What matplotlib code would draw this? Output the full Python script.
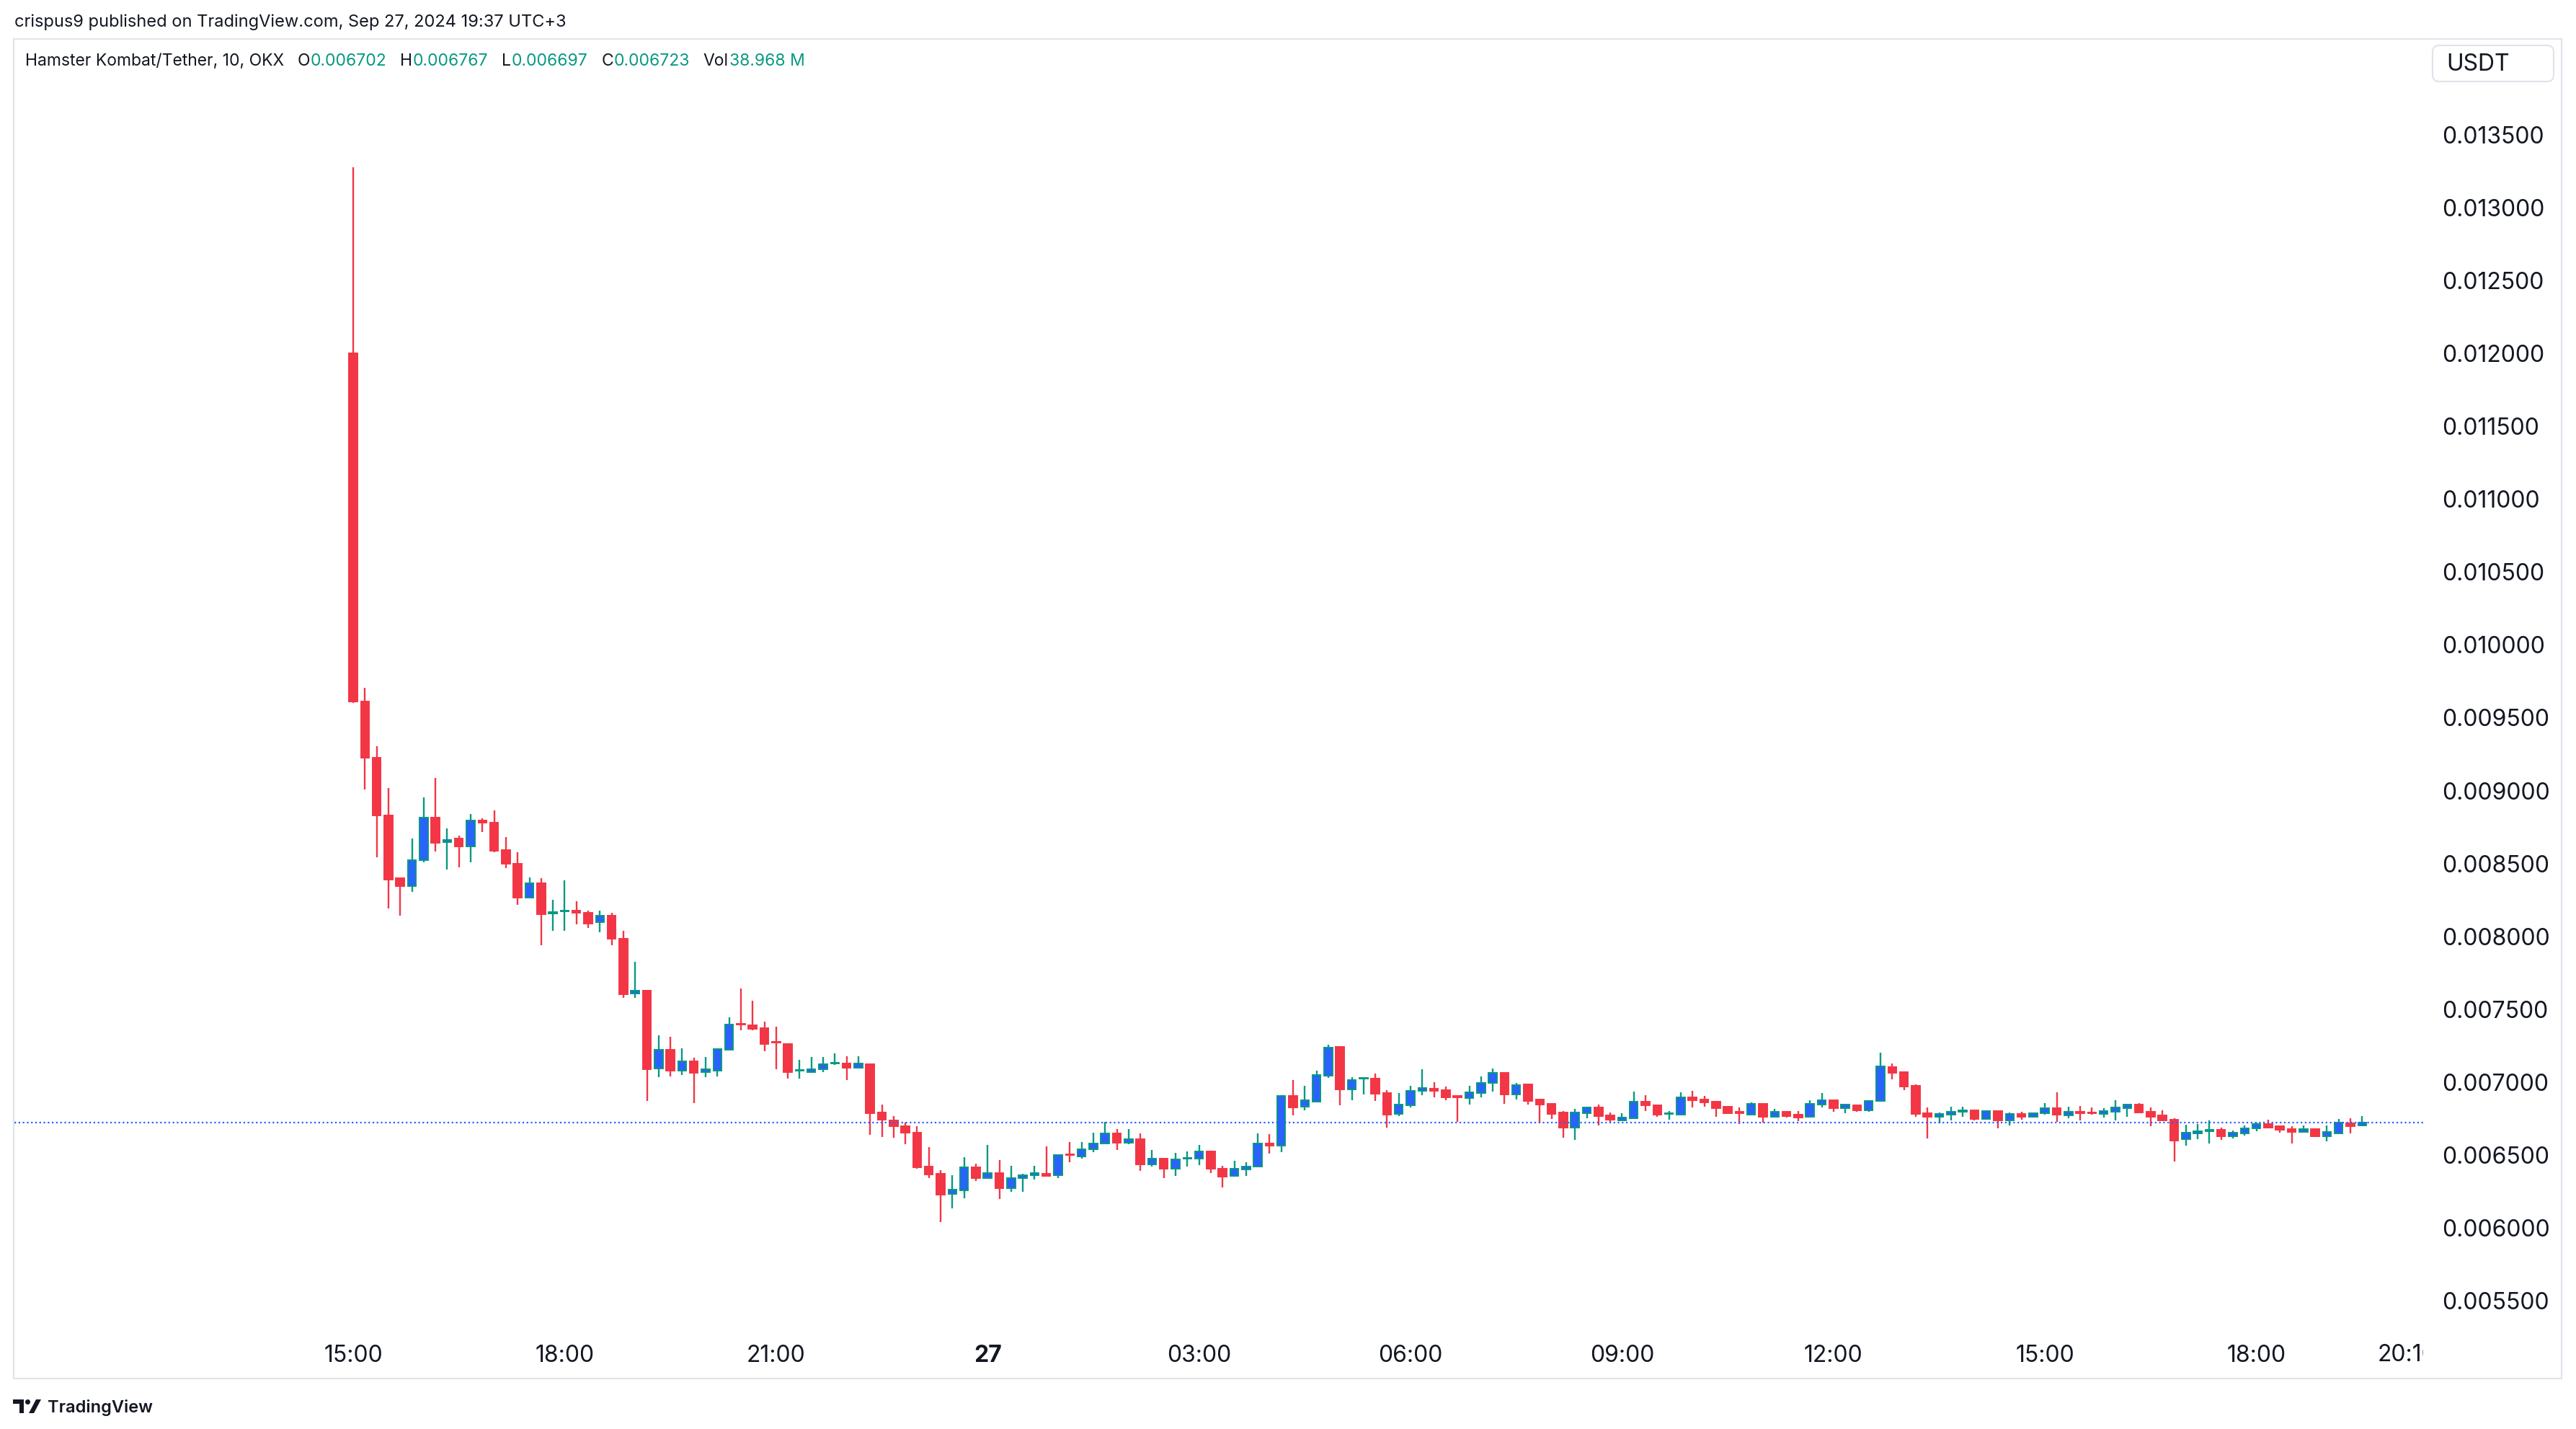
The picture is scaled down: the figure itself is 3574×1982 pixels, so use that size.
import matplotlib
matplotlib.use("Agg")
import matplotlib.pyplot as plt
from matplotlib.patches import Rectangle, Circle, Polygon, FancyBboxPatch
from matplotlib.transforms import Bbox, TransformedBbox, blended_transform_factory, offset_copy

plt.rcParams['font.family'] = ['Inter', 'DejaVu Sans']

W, H = 3574, 1982
DPI = 100

## données : bougies de 10 minutes, HMSTR/USDT (OKX), du 26/09 15:00 au 27/09 19:30
opens = [0.012000, 0.009611, 0.009225, 0.008828, 0.008400, 0.008343, 0.008521, 0.008816, 0.008645, 0.008672,
         0.008616, 0.008794, 0.008779, 0.008593, 0.008498, 0.008264, 0.008366, 0.008157, 0.008172, 0.008176,
         0.008161, 0.008097, 0.008142, 0.007984, 0.007606, 0.007628, 0.007096, 0.007224, 0.007080, 0.007144,
         0.007067, 0.007080, 0.007224, 0.007401, 0.007392, 0.007372, 0.007277, 0.007261, 0.007078, 0.007071,
         0.007087, 0.007127, 0.007129, 0.007100, 0.007124, 0.006793, 0.006740, 0.006696, 0.006656, 0.006420,
         0.006372, 0.006235, 0.006260, 0.006416, 0.006344, 0.006375, 0.006275, 0.006341, 0.006360, 0.006370,
         0.006361, 0.006504, 0.006489, 0.006538, 0.006580, 0.006647, 0.006583, 0.006608, 0.006438, 0.006474,
         0.006408, 0.006474, 0.006474, 0.006524, 0.006408, 0.006359, 0.006400, 0.006420, 0.006581, 0.006566,
         0.006904, 0.006834, 0.006868, 0.007046, 0.007241, 0.006952, 0.007023, 0.007023, 0.006926, 0.006784,
         0.006840, 0.006939, 0.006954, 0.006945, 0.006905, 0.006892, 0.006928, 0.006995, 0.007066, 0.006916,
         0.006985, 0.006883, 0.006852, 0.006793, 0.006690, 0.006788, 0.006827, 0.006773, 0.006738, 0.006755,
         0.006867, 0.006844, 0.006781, 0.006778, 0.006896, 0.006882, 0.006867, 0.006832, 0.006797, 0.006778,
         0.006852, 0.006763, 0.006797, 0.006778, 0.006765, 0.006849, 0.006877, 0.006824, 0.006842, 0.006808,
         0.006869, 0.007104, 0.007071, 0.006976, 0.006788, 0.006765, 0.006779, 0.006799, 0.006808, 0.006748,
         0.006803, 0.006738, 0.006783, 0.006765, 0.006789, 0.006822, 0.006770, 0.006798, 0.006791, 0.006780,
         0.006799, 0.006824, 0.006847, 0.006798, 0.006773, 0.006743, 0.006607, 0.006649, 0.006666, 0.006674,
         0.006630, 0.006649, 0.006684, 0.006714, 0.006699, 0.006679, 0.006659, 0.006679, 0.006630, 0.006649,
         0.006719, 0.006702]
highs = [0.013275, 0.009706, 0.009305, 0.009017, 0.008400, 0.008672, 0.008953, 0.009085, 0.008741, 0.008691,
         0.008839, 0.008809, 0.008866, 0.008680, 0.008578, 0.008404, 0.008400, 0.008249, 0.008385, 0.008241,
         0.008176, 0.008177, 0.008161, 0.008037, 0.007825, 0.007628, 0.007321, 0.007312, 0.007233, 0.007169,
         0.007173, 0.007228, 0.007445, 0.007643, 0.007559, 0.007416, 0.007381, 0.007261, 0.007153, 0.007173,
         0.007173, 0.007197, 0.007178, 0.007178, 0.007129, 0.006846, 0.006767, 0.006723, 0.006700, 0.006555,
         0.006397, 0.006362, 0.006486, 0.006441, 0.006570, 0.006466, 0.006426, 0.006370, 0.006426, 0.006560,
         0.006505, 0.006589, 0.006589, 0.006654, 0.006728, 0.006678, 0.006678, 0.006647, 0.006535, 0.006481,
         0.006515, 0.006525, 0.006570, 0.006524, 0.006425, 0.006459, 0.006450, 0.006647, 0.006642, 0.006904,
         0.007013, 0.006974, 0.007077, 0.007255, 0.007247, 0.007035, 0.007028, 0.007058, 0.006946, 0.006926,
         0.006976, 0.007089, 0.007000, 0.006971, 0.006905, 0.006976, 0.007040, 0.007094, 0.007066, 0.006995,
         0.006985, 0.006888, 0.006852, 0.006800, 0.006817, 0.006832, 0.006849, 0.006794, 0.006788, 0.006938,
         0.006913, 0.006844, 0.006802, 0.006931, 0.006943, 0.006906, 0.006872, 0.006832, 0.006827, 0.006862,
         0.006852, 0.006817, 0.006802, 0.006802, 0.006877, 0.006926, 0.006877, 0.006847, 0.006847, 0.006877,
         0.007203, 0.007129, 0.007075, 0.006984, 0.006827, 0.006791, 0.006832, 0.006832, 0.006808, 0.006808,
         0.006803, 0.006791, 0.006798, 0.006791, 0.006857, 0.006931, 0.006832, 0.006837, 0.006827, 0.006822,
         0.006877, 0.006852, 0.006857, 0.006827, 0.006808, 0.006755, 0.006709, 0.006714, 0.006738, 0.006689,
         0.006669, 0.006704, 0.006725, 0.006743, 0.006699, 0.006699, 0.006704, 0.006684, 0.006704, 0.006748,
         0.006753, 0.006767]
lows = [0.009600, 0.009006, 0.008544, 0.008192, 0.008143, 0.008305, 0.008506, 0.008582, 0.008457, 0.008472,
        0.008506, 0.008714, 0.008578, 0.008468, 0.008218, 0.008264, 0.007938, 0.008040, 0.008040, 0.008082,
        0.008056, 0.008029, 0.007938, 0.007579, 0.007579, 0.006873, 0.007034, 0.007041, 0.007049, 0.006857,
        0.007034, 0.007041, 0.007224, 0.007356, 0.007356, 0.007213, 0.007089, 0.007027, 0.007027, 0.007063,
        0.007067, 0.007120, 0.007016, 0.007100, 0.006639, 0.006625, 0.006619, 0.006577, 0.006405, 0.006343,
        0.006041, 0.006134, 0.006205, 0.006324, 0.006344, 0.006200, 0.006250, 0.006250, 0.006334, 0.006359,
        0.006341, 0.006453, 0.006474, 0.006519, 0.006573, 0.006535, 0.006573, 0.006393, 0.006421, 0.006344,
        0.006359, 0.006421, 0.006431, 0.006378, 0.006280, 0.006354, 0.006359, 0.006420, 0.006510, 0.006522,
        0.006774, 0.006809, 0.006868, 0.007030, 0.006843, 0.006878, 0.006918, 0.006873, 0.006690, 0.006769,
        0.006829, 0.006913, 0.006896, 0.006877, 0.006730, 0.006847, 0.006896, 0.006936, 0.006852, 0.006882,
        0.006847, 0.006723, 0.006748, 0.006619, 0.006606, 0.006753, 0.006704, 0.006725, 0.006738, 0.006755,
        0.006802, 0.006763, 0.006743, 0.006773, 0.006827, 0.006832, 0.006763, 0.006789, 0.006713, 0.006778,
        0.006725, 0.006758, 0.006758, 0.006733, 0.006765, 0.006827, 0.006799, 0.006788, 0.006799, 0.006799,
        0.006869, 0.007022, 0.006948, 0.006765, 0.006615, 0.006720, 0.006738, 0.006765, 0.006738, 0.006748,
        0.006684, 0.006705, 0.006745, 0.006765, 0.006775, 0.006730, 0.006755, 0.006738, 0.006775, 0.006760,
        0.006738, 0.006765, 0.006794, 0.006699, 0.006738, 0.006458, 0.006565, 0.006607, 0.006580, 0.006605,
        0.006615, 0.006635, 0.006664, 0.006689, 0.006654, 0.006580, 0.006654, 0.006625, 0.006595, 0.006644,
        0.006649, 0.006697]
closes = [0.009611, 0.009225, 0.008828, 0.008389, 0.008343, 0.008521, 0.008816, 0.008642, 0.008663, 0.008616,
          0.008794, 0.008779, 0.008589, 0.008498, 0.008264, 0.008366, 0.008154, 0.008168, 0.008176, 0.008164,
          0.008090, 0.008142, 0.007984, 0.007601, 0.007626, 0.007087, 0.007224, 0.007080, 0.007144, 0.007065,
          0.007087, 0.007228, 0.007396, 0.007396, 0.007367, 0.007261, 0.007270, 0.007071, 0.007084, 0.007089,
          0.007124, 0.007133, 0.007100, 0.007129, 0.006789, 0.006745, 0.006696, 0.006656, 0.006416, 0.006369,
          0.006228, 0.006263, 0.006416, 0.006344, 0.006375, 0.006275, 0.006341, 0.006360, 0.006375, 0.006359,
          0.006499, 0.006499, 0.006538, 0.006580, 0.006647, 0.006584, 0.006608, 0.006438, 0.006474, 0.006408,
          0.006469, 0.006479, 0.006524, 0.006408, 0.006354, 0.006405, 0.006420, 0.006581, 0.006566, 0.006904,
          0.006828, 0.006875, 0.007048, 0.007236, 0.006952, 0.007013, 0.007028, 0.006922, 0.006779, 0.006845,
          0.006939, 0.006959, 0.006943, 0.006896, 0.006896, 0.006931, 0.006995, 0.007066, 0.006916, 0.006980,
          0.006872, 0.006847, 0.006783, 0.006690, 0.006793, 0.006827, 0.006768, 0.006745, 0.006758, 0.006867,
          0.006844, 0.006778, 0.006788, 0.006896, 0.006877, 0.006862, 0.006822, 0.006789, 0.006789, 0.006852,
          0.006763, 0.006797, 0.006768, 0.006758, 0.006852, 0.006877, 0.006824, 0.006847, 0.006808, 0.006872,
          0.007109, 0.007066, 0.006972, 0.006783, 0.006765, 0.006783, 0.006797, 0.006807, 0.006748, 0.006803,
          0.006738, 0.006783, 0.006765, 0.006786, 0.006822, 0.006775, 0.006798, 0.006785, 0.006785, 0.006803,
          0.006827, 0.006847, 0.006794, 0.006765, 0.006738, 0.006600, 0.006654, 0.006664, 0.006674, 0.006630,
          0.006654, 0.006684, 0.006714, 0.006689, 0.006674, 0.006659, 0.006679, 0.006630, 0.006659, 0.006724,
          0.006699, 0.006723]

price_ticks = [0.0055, 0.0060, 0.0065, 0.0070, 0.0075, 0.0080, 0.0085, 0.0090, 0.0095,
               0.0100, 0.0105, 0.0110, 0.0115, 0.0120, 0.0125, 0.0130, 0.0135]
time_ticks = [0, 18, 36, 54, 72, 90, 108, 126, 144, 162]
time_labels = ["15:00", "18:00", "21:00", "27", "03:00", "06:00", "09:00", "12:00", "15:00", "18:00"]
cut_tick, cut_label = 176, "20:10"

header = "crispus9 published on TradingView.com, Sep 27, 2024 19:37 UTC+3"
symbol = "Hamster Kombat/Tether, 10, OKX"
legend_keys = ["O", "H", "L", "C", "Vol"]
legend_vals = ["0.006702", "0.006767", "0.006697", "0.006723", "38.968 M"]
last_close = 0.006723

## couleurs
ROUGE = "#F23645"
VERT = "#089981"
BLEU = "#2962FF"
TEXTE = "#131722"
BORD = "#E0E3EB"

fig = plt.figure(figsize=(W / DPI, H / DPI), dpi=DPI, facecolor="white")

### zone des bougies (position en pixels de l'image)
left, right, top, bottom = 20, 3362, 54, 1840
ax = fig.add_axes([left / W, 1 - bottom / H, (right - left) / W, (bottom - top) / H])
ax.set_facecolor("white")
for s in ax.spines.values():
    s.set_visible(False)

x = list(range(len(opens)))
up = [c >= o for o, c in zip(opens, closes)]
couleur_meche = [VERT if u else ROUGE for u in up]
fond = [BLEU if u else ROUGE for u in up]
bord = [VERT if u else ROUGE for u in up]
bas = [min(o, c) for o, c in zip(opens, closes)]
haut_corps = [max(abs(c - o), 1e-6) for o, c in zip(opens, closes)]

ax.vlines(x, lows, highs, colors=couleur_meche, linewidth=1.7, zorder=2)
ax.bar(x, haut_corps, bottom=bas, width=0.7, color=fond, edgecolor=bord, linewidth=1.4, zorder=3)
ax.axhline(last_close, color=BLEU, linewidth=1.6, linestyle=(0, (1, 1.6)), zorder=4)

ax.set_xlim((left - 490) / 16.3, (right - 490) / 16.3)
ax.set_ylim(0.0053234, 0.0141563)

ax.yaxis.tick_right()
ax.set_yticks(price_ticks)
ax.set_yticklabels(["%.6f" % p for p in price_ticks])
ax.tick_params(axis="y", length=0, pad=18.5, labelsize=23, labelcolor=TEXTE)
ax.set_xticks(time_ticks)
lbls = ax.set_xticklabels(time_labels)
lbls[3].set_fontweight("bold")
ax.tick_params(axis="x", length=0, pad=18, labelsize=23, labelcolor=TEXTE)

# dernier label, coupé par l'échelle de prix
tr = offset_copy(blended_transform_factory(ax.transData, ax.transAxes), fig, x=-19, y=-24, units="dots")
t = ax.text(cut_tick, 0, cut_label, transform=tr, ha="center", va="top", fontsize=23, color=TEXTE)
t.set_clip_path(None)
t.set_clip_box(TransformedBbox(Bbox([[0, -1], [1, 1]]), ax.transAxes))
t.set_clip_on(True)

### calque de décor en pixels
ov = fig.add_axes([0, 0, 1, 1], zorder=5)
ov.set_xlim(0, W)
ov.set_ylim(H, 0)
ov.axis("off")
ov.patch.set_alpha(0)

ov.add_patch(Rectangle((19, 54), 3554 - 19, 1912 - 54, fill=False, edgecolor=BORD, linewidth=1.5))
ov.text(20, 31, header, fontsize=17, color=TEXTE, va="center", ha="left")

rend = fig.canvas.get_renderer()
cx = 35
t0 = ov.text(cx, 85, symbol, fontsize=16.5, color=TEXTE, va="center", ha="left")
cx += t0.get_window_extent(rend).width + 18
for k, v in zip(legend_keys, legend_vals):
    tk = ov.text(cx, 85, k, fontsize=16.5, color=TEXTE, va="center", ha="left")
    cx += tk.get_window_extent(rend).width + 1
    tv = ov.text(cx, 85, v, fontsize=16.5, color=VERT, va="center", ha="left")
    cx += tv.get_window_extent(rend).width + 18.5

ov.add_patch(FancyBboxPatch((3375, 63), 168, 50, boxstyle="round,pad=0,rounding_size=9",
                            facecolor="white", edgecolor=BORD, linewidth=1.5))
ov.text(3394, 89, "USDT", fontsize=23, color=TEXTE, va="center", ha="left")

# logo TradingView
ov.add_patch(Rectangle((18, 1941), 15, 6, color=TEXTE, linewidth=0))
ov.add_patch(Rectangle((27, 1941), 6, 19, color=TEXTE, linewidth=0))
ov.add_patch(Circle((38.5, 1944.5), 3.5, color=TEXTE, linewidth=0))
ov.add_patch(Polygon([(40, 1960), (47, 1960), (57, 1941), (50, 1941)], closed=True, color=TEXTE, linewidth=0))
ov.text(66, 1952, "TradingView", fontsize=17, fontweight="semibold", color=TEXTE, va="center", ha="left")

fig.savefig("out.png", dpi=DPI, facecolor="white")
